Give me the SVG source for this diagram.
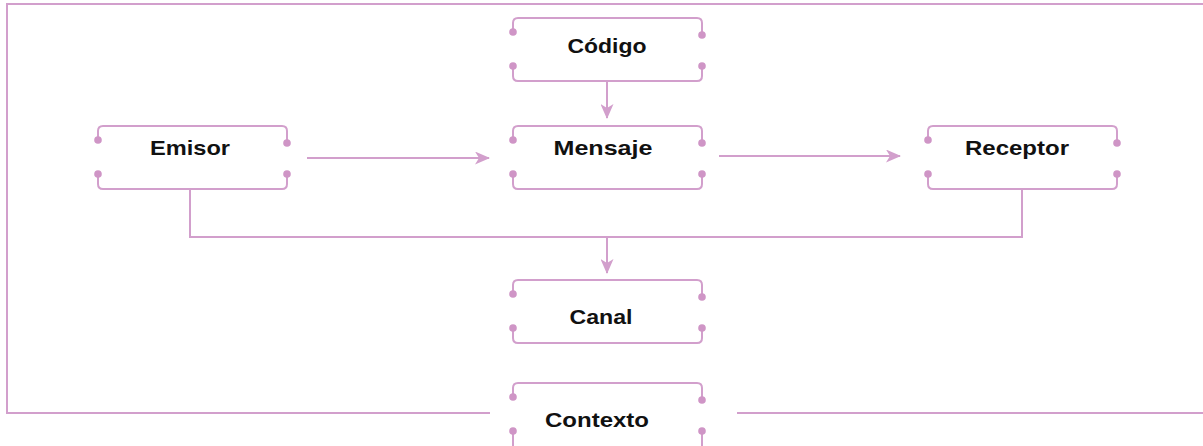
<svg xmlns="http://www.w3.org/2000/svg" xmlns:xlink="http://www.w3.org/1999/xlink" width="1203" height="446" viewBox="0 0 1203 446">
  <style>
    .ln { fill: none; stroke: #d29fcc; stroke-width: 2; }
    .dot { fill: #cf95c6; }
    .lbl { font-family: "Liberation Sans", Arial, sans-serif; font-weight: bold; font-size: 21px; fill: #111; text-anchor: middle; }
  </style>
  <defs>
    <marker id="arr" markerUnits="userSpaceOnUse" markerWidth="15" markerHeight="13" refX="14" refY="6.5" orient="auto">
      <path d="M0,0 L15,6.5 L0,13 L4,6.5 Z" fill="#d29fcc"/>
    </marker>
    <g id="frame">
      <path class="ln" d="M0,14 V5 Q0,0 5,0 H184 Q189,0 189,5 V17"/>
      <path class="ln" d="M0,48 V58 Q0,63 5,63 H184 Q189,63 189,58 V48"/>
      <circle class="dot" cx="0" cy="14" r="3.8"/>
      <circle class="dot" cx="189" cy="17" r="3.8"/>
      <circle class="dot" cx="0" cy="48" r="3.8"/>
      <circle class="dot" cx="189" cy="48" r="3.8"/>
    </g>
  </defs>
  <rect width="1203" height="446" fill="#ffffff"/>

  <g id="connectors">
    <path class="ln" d="M490,413 H7 V4 H1203"/>
    <path class="ln" d="M737,413 H1203"/>
    <path class="ln" d="M607,81 V118" marker-end="url(#arr)"/>
    <path class="ln" d="M307,158 H489" marker-end="url(#arr)"/>
    <path class="ln" d="M719,156 H900" marker-end="url(#arr)"/>
    <path class="ln" d="M190,189 V237 H1022 V189"/>
    <path class="ln" d="M607,237 V273" marker-end="url(#arr)"/>
  </g>

  <g id="codigo" transform="translate(513,18)">
    <use xlink:href="#frame" href="#frame"/>
    <text class="lbl" x="94" y="35" textLength="79" lengthAdjust="spacingAndGlyphs">Código</text>
  </g>
  <g id="emisor" transform="translate(98,126)">
    <use xlink:href="#frame" href="#frame"/>
    <text class="lbl" x="92" y="29" textLength="80" lengthAdjust="spacingAndGlyphs">Emisor</text>
  </g>
  <g id="mensaje" transform="translate(513,126)">
    <use xlink:href="#frame" href="#frame"/>
    <text class="lbl" x="90" y="29" textLength="99" lengthAdjust="spacingAndGlyphs">Mensaje</text>
  </g>
  <g id="receptor" transform="translate(928,126)">
    <use xlink:href="#frame" href="#frame"/>
    <text class="lbl" x="89" y="29" textLength="104" lengthAdjust="spacingAndGlyphs">Receptor</text>
  </g>
  <g id="canal" transform="translate(513,280)">
    <use xlink:href="#frame" href="#frame"/>
    <text class="lbl" x="88" y="44" textLength="63" lengthAdjust="spacingAndGlyphs">Canal</text>
  </g>
  <g id="contexto" transform="translate(513,383)">
    <path class="ln" d="M0,14 V5 Q0,0 5,0 H184 Q189,0 189,5 V17"/>
    <path class="ln" d="M0,48 V70 M189,48 V70"/>
    <circle class="dot" cx="0" cy="14" r="3.8"/>
    <circle class="dot" cx="189" cy="17" r="3.8"/>
    <circle class="dot" cx="0" cy="48" r="3.8"/>
    <circle class="dot" cx="189" cy="48" r="3.8"/>
    <text class="lbl" x="84" y="44" textLength="104" lengthAdjust="spacingAndGlyphs">Contexto</text>
  </g>
</svg>
